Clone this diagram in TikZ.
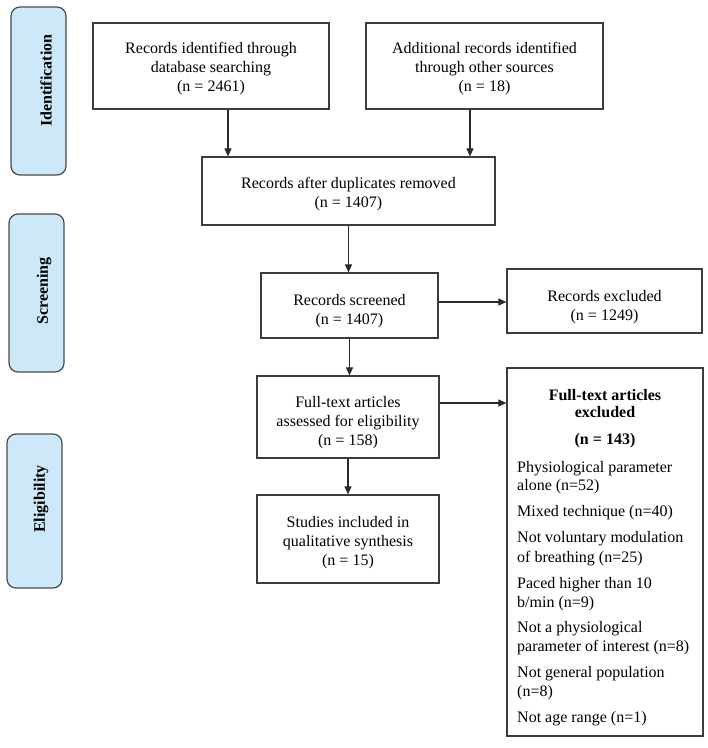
\documentclass[tikz,border=0pt]{standalone}
\usepackage{fontspec}
\setmainfont{Liberation Serif}
\usetikzlibrary{arrows.meta}
\definecolor{boxgray}{HTML}{3C3C3C}
\definecolor{pillgray}{HTML}{4A4A4A}
\definecolor{pillblue}{HTML}{CDE8F9}
\definecolor{arrgray}{HTML}{2A2A2A}
\begin{document}
\begin{tikzpicture}[x=1pt,y=-1pt,
  box/.style={draw=boxgray, line width=1.2pt, inner sep=0pt},
  btxt/.style={inner sep=0pt, align=center, font=\fontsize{16}{19}\selectfont},
  phase/.style={draw=pillgray, fill=pillblue, line width=1.2pt, rounded corners=9pt, inner sep=0pt, rotate=90, minimum height=55pt},
  ptxt/.style={inner sep=0pt, rotate=90, font=\fontsize{16}{19}\selectfont\bfseries},
  arr/.style={draw=arrgray, line width=1.1pt, -{Triangle[length=8pt,width=7pt]}},
  txt/.style={font=\fontsize{16}{19}\selectfont, inner sep=0pt, anchor=mid west},
  head/.style={font=\fontsize{16}{19}\selectfont\bfseries, inner sep=0pt, anchor=mid}
]
\useasboundingbox (0,0) rectangle (708,748);

% phases
\node[phase, minimum width=168pt] (pid) at (38.5,91) {};
\node[phase, minimum width=158pt] (pscr) at (36.5,293) {};
\node[phase, minimum width=154pt] (pel) at (34.5,511) {};
\node[ptxt] (pidt) at (46,80.7) {Identification};
\node[ptxt] (pscrt) at (44,291) {Screening};
\node[ptxt] (pelt) at (41,499) {Eligibility};

% boxes
\node[box, minimum width=236pt, minimum height=86pt] (b1) at (211,66) {};
\node[box, minimum width=237pt, minimum height=86pt] (b2) at (484.5,66) {};
\node[box, minimum width=293pt, minimum height=68pt] (b3) at (348.5,191) {};
\node[box, minimum width=177pt, minimum height=65pt] (b4) at (349.5,305.5) {};
\node[box, minimum width=195pt, minimum height=64pt] (b5) at (604.5,301) {};
\node[box, minimum width=182pt, minimum height=82pt] (b6) at (348,417) {};
\node[box, minimum width=182pt, minimum height=88pt] (b7) at (348,539) {};
\node[box, minimum width=196pt, minimum height=368pt] (b8) at (605,552) {};

\node[btxt] (t1) at ([yshift=-3pt]b1.center) {Records identified through\\database searching\\(n = 2461)};
\node[btxt] (t2) at ([yshift=-3pt]b2.center) {Additional records identified\\through other sources\\(n = 18)};
\node[btxt] (t3) at ([yshift=-3.5pt]b3.center) {Records after duplicates removed\\(n = 1407)};
\node[btxt] (t4) at ([yshift=-6pt]b4.center) {Records screened\\(n = 1407)};
\node[btxt] (t5) at ([yshift=-6.5pt]b5.center) {Records excluded\\(n = 1249)};
\node[btxt] (t6) at ([yshift=-5.5pt]b6.center) {Full-text articles\\assessed for eligibility\\(n = 158)};
\node[btxt] (t7) at ([yshift=-4pt]b7.center) {Studies included in\\qualitative synthesis\\(n = 15)};

% excluded list
\node[head] (h1) at (605,398) {Full-text articles};
\node[head] (h2) at (605,415.5) {excluded};
\node[head] (h3) at (605,442) {(n = 143)};
\node[txt] (l1) at (517,469.8) {Physiological parameter};
\node[txt] (l2) at (517,488.2) {alone (n=52)};
\node[txt] (l3) at (517,513.8) {Mixed technique (n=40)};
\node[txt] (l4) at (517,540.5) {Not voluntary modulation};
\node[txt] (l5) at (517,559.8) {of breathing (n=25)};
\node[txt] (l6) at (517,586.5) {Paced higher than 10};
\node[txt] (l7) at (517,605.5) {b/min (n=9)};
\node[txt] (l8) at (517,629.8) {Not a physiological};
\node[txt] (l9) at (517,649.2) {parameter of interest (n=8)};
\node[txt] (l10) at (517,675.5) {Not general population};
\node[txt] (l11) at (517,693.8) {(n=8)};
\node[txt] (l12) at (517,720.5) {Not age range (n=1)};

% connectors
\coordinate (c1) at (228,0);
\coordinate (c2) at (470,0);
\coordinate (r1) at (0,302);
\coordinate (r2) at (0,403);
\draw[arr] (b1.south -| c1) -- (b3.north -| c1);
\draw[arr] (b2.south -| c2) -- (b3.north -| c2);
\draw[arr] (b3.south) -- (b4.north -| b3.south);
\draw[arr] (b4.east |- r1) -- (b5.west |- r1);
\draw[arr] (b4.south) -- (b6.north -| b4.south);
\draw[arr] (b6.east |- r2) -- (b8.west |- r2);
\draw[arr] (b6.south) -- (b7.north);
\end{tikzpicture}
\end{document}
